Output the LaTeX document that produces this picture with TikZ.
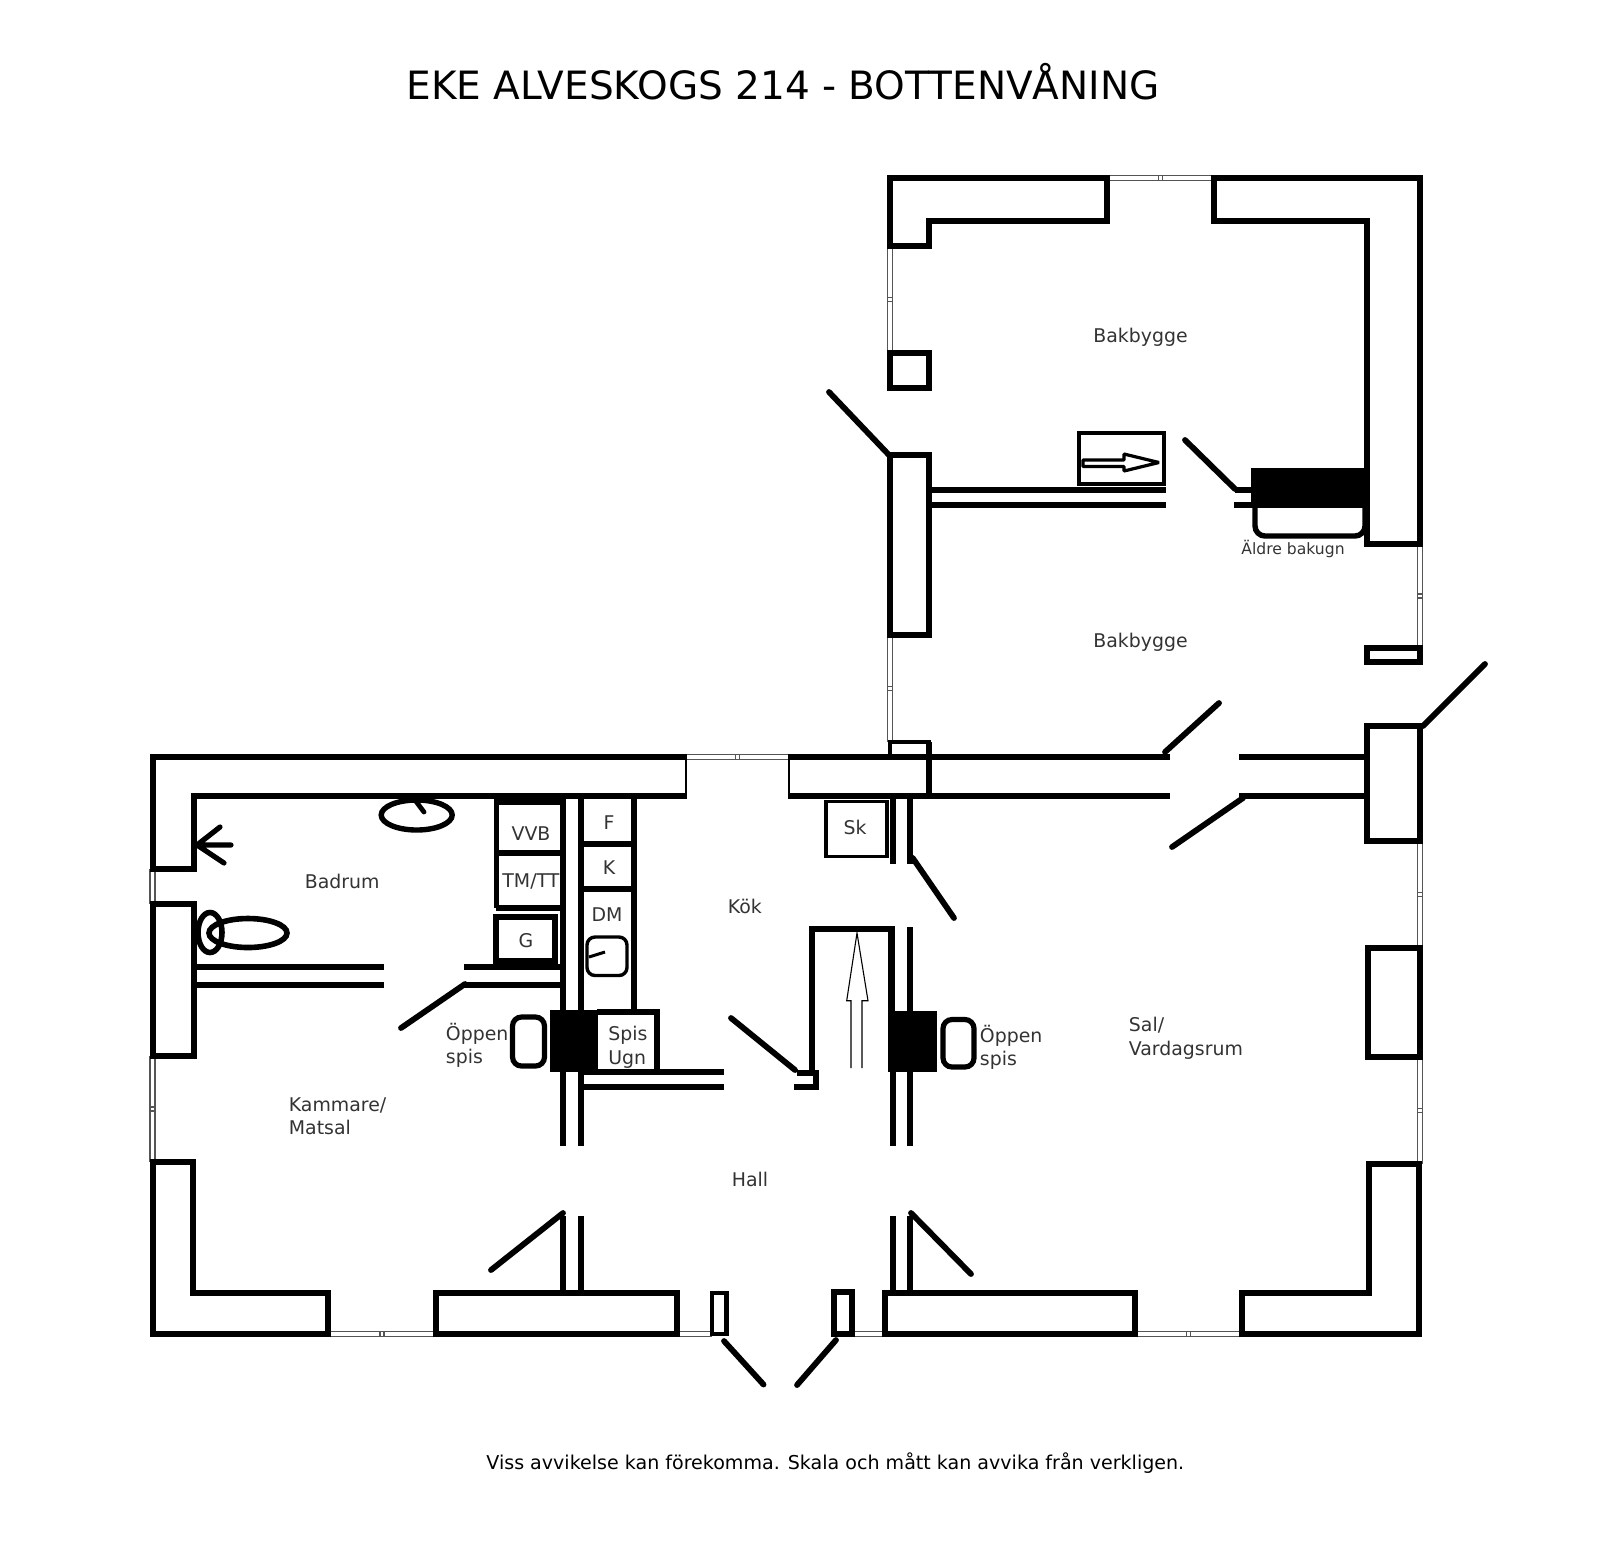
\documentclass[tikz,border=0pt]{standalone}
\usepackage{fontspec}
\setmainfont{DejaVu Sans}
\definecolor{txt}{HTML}{333333}
\definecolor{win}{HTML}{555555}
\newcommand{\hwin}[3]{%
  \draw[winline] (#1,#3-2.5) -- (#2,#3-2.5) (#1,#3+2.5) -- (#2,#3+2.5);
  \draw[winline] ({(#1+#2)/2-2},#3-2.5) -- ++(0,5) ({(#1+#2)/2+2},#3-2.5) -- ++(0,5);}
\newcommand{\vwin}[3]{%
  \draw[winline] (#3-2.5,#1) -- (#3-2.5,#2) (#3+2.5,#1) -- (#3+2.5,#2);
  \draw[winline] (#3-2.5,{(#1+#2)/2-2}) -- ++(5,0) (#3-2.5,{(#1+#2)/2+2}) -- ++(5,0);}
\tikzset{
  wall/.style={line width=3pt,miter limit=10,line join=miter},
  doorleaf/.style={line width=2.9pt,line cap=round},
  winline/.style={line width=0.55pt,color=win},
  solid block/.style={fill=black,draw=none},
  label/.style={anchor=base west,inner sep=0pt,text=txt,font=\fontsize{9.45}{12}\selectfont},
  labelc/.style={anchor=base,inner sep=0pt,text=txt,font=\fontsize{9.45}{12}\selectfont},
}
\begin{document}
\begin{tikzpicture}[x=0.5pt,y=-0.5pt]
\useasboundingbox (0,0) rectangle (1600,1560);

% ---------- title and footer
\node[anchor=base west,inner sep=0pt,font=\fontsize{19.5}{22}\selectfont] (title) at (406,99.5) {EKE ALVESKOGS 214 - BOTTENVÅNING};
\node[anchor=base west,inner sep=0pt,text=black,font=\fontsize{9.53}{12}\selectfont] (footer) at (486,1469) {Viss avvikelse kan förekomma. Skala och mått kan avvika från verkligen.};

% ---------- windows
\hwin{1109}{1212}{178}
\vwin{246}{353}{890}
\vwin{635}{742}{890}
\vwin{544}{648}{1420}
\vwin{841}{948}{1420}
\vwin{1057}{1164}{1420}
\hwin{686}{789}{757}
\vwin{1056}{1162}{152.5}
\draw[winline] (150,869) -- (150,904) (155,869) -- (155,904);
\hwin{328}{436}{1334}
\draw[winline] (677,1331.5) -- (712,1331.5) (677,1336.5) -- (712,1336.5);
\draw[winline] (851,1331.5) -- (885,1331.5) (851,1336.5) -- (885,1336.5);
\hwin{1135}{1242}{1334}

% ---------- back building walls
\draw[wall] (890,178) -- (1107,178) -- (1107,221) -- (929,221) -- (929,246) -- (890,246) -- cycle;
\draw[wall] (1214,178) -- (1420,178) -- (1420,544) -- (1367,544) -- (1367,221) -- (1214,221) -- cycle;
\draw[wall] (890,353) rectangle (929,388);
\draw[wall] (890,455) rectangle (929,635);
\draw[wall] (1367,648) rectangle (1420,662);
\draw[wall,line width=2.4pt] (890,742) rectangle (929,757);
\draw[wall] (929,742) -- (929,796);

% back building partition
\draw[wall] (929,490) -- (1166,490) (929,505) -- (1166,505);
\draw[wall] (1235,490) -- (1252,490) (1234,505) -- (1252,505);
\fill[solid block] (1251,468) rectangle (1368,508);
\draw[line width=2.7pt,rounded corners=5pt] (1255,506) -- (1255,536) -- (1365,536) -- (1365,506);
\draw[line width=1.6pt] (1079,433) rectangle (1164,484);
\draw[line width=1.6pt,line join=bevel] (1083,460) -- (1124,460) -- (1124,454) -- (1159,462.5) -- (1124,471) -- (1124,466.5) -- (1083,466.5) -- cycle;

% ---------- main building walls
\draw[wall] (686,757) -- (152.5,757) -- (152.5,869) -- (193.6,869) -- (193.6,796) -- (686,796);
\draw[line width=0.6pt] (686,754) -- (686,799);
\draw[wall] (789,757) -- (1170,757) (789,796) -- (1170,796);
\draw[line width=0.6pt] (789,754) -- (789,799);
\draw[wall] (1239,757) -- (1367,757) (1239,796) -- (1367,796);
\draw[wall] (1367,726) rectangle (1420,841);
\draw[wall] (1368,948) rectangle (1420,1057);
\draw[wall] (152.5,904) rectangle (193.6,1056);
\draw[wall] (152.5,1162) -- (193,1162) -- (193,1293) -- (328,1293) -- (328,1334) -- (152.5,1334) -- cycle;
\draw[wall] (436,1293) rectangle (677,1334);
\draw[wall,line width=2.4pt] (712,1293) rectangle (726.5,1334);
\draw[wall] (834,1292) rectangle (851.5,1334);
\draw[wall] (885.4,1293) rectangle (1135,1334);
\draw[wall] (1242,1293) -- (1369,1293) -- (1369,1164) -- (1419,1164) -- (1419,1334) -- (1242,1334) -- cycle;

% ---------- inner walls, left
\draw[wall] (562.7,796) -- (562.7,1146) (580.7,796) -- (580.7,1146);
\draw[wall] (562.7,1216) -- (562.7,1293) (580.7,1216) -- (580.7,1293);
\draw[wall] (193.6,967) -- (384,967) (193.6,985) -- (384,985);
\draw[wall] (464,967) -- (560.7,967) (464,985) -- (560.7,985);
\draw[wall] (580.7,1072) -- (724,1072) (580.7,1086.7) -- (724,1086.7);

% bathroom appliances
\draw[line width=2.7pt] (496.4,796) -- (496.4,908);
\draw[line width=2.7pt] (496.4,853) -- (561,853) (496.4,908) -- (561,908);
\fill[solid block] (494,796) rectangle (561,805);
\draw[wall] (496.4,917) rectangle (555,960.5);

% kitchen column
\draw[wall] (633.7,796) -- (633.7,1012);
\draw[line width=2.7pt] (580.7,844) -- (633.7,844) (580.7,889) -- (633.7,889);
\draw[wall] (597,1012) -- (657,1012) -- (657,1072);
\draw[line width=1.7pt,rounded corners=4pt] (587,937) rectangle (627,975.5);
\draw[line width=1.5pt] (589,957) -- (605,952);

% fireplaces
\fill[solid block] (550,1010) rectangle (597.7,1072);
\draw[line width=2.6pt,rounded corners=4.5pt] (512.5,1017) rectangle (544.5,1066);
\fill[solid block] (888,1011) rectangle (936.7,1072);
\draw[line width=2.6pt,rounded corners=4.5pt] (943,1019.5) rectangle (974,1067);

% ---------- inner walls, right
\draw[wall] (892.7,796) -- (892.7,864) (910,796) -- (910,864);
\draw[wall] (910,927) -- (910,1146);
\draw[wall] (892.7,1072) -- (892.7,1146);
\draw[wall] (892.7,1216) -- (892.7,1293) (910,1216) -- (910,1293);
\draw[wall] (812,1072) -- (812,929) -- (891.5,929);
\draw[line width=3.4pt] (891.5,926) -- (891.5,1012);
\draw[wall] (796.7,1072.7) -- (815.7,1072.7) -- (815.7,1086.7) -- (794,1086.7);
\draw[line width=1.7pt] (826,801.5) rectangle (887,856.5);
% up arrow
\draw[line width=0.55pt] (851,1068) -- (851,1000.7) -- (846.7,1000.7) -- (857,933) -- (868,1000.7) -- (862,1000.7) -- (862,1068);

% ---------- fixtures in the bathroom
\draw[line width=2.8pt] (210,932.5) ellipse [x radius=12,y radius=20];
\draw[line width=2.8pt] (248,933) ellipse [x radius=39,y radius=14.5];
\draw[line width=2.7pt] (416.7,815) ellipse [x radius=35.5,y radius=15];
\draw[line width=2.4pt,line cap=round] (415,800) -- (424,812);
\draw[line width=2.6pt,line cap=round] (197,845) -- (231,845) (197,845) -- (220,827) (197,845) -- (224,863);

% ---------- door leaves
\draw[doorleaf] (829,392) -- (889,455);
\draw[doorleaf] (1235,489) -- (1185,440);
\draw[doorleaf] (1165,752) -- (1219,703);
\draw[doorleaf] (1243,798) -- (1172,847);
\draw[doorleaf] (1423,726) -- (1485,664);
\draw[doorleaf] (465,984) -- (401,1028);
\draw[doorleaf] (912.7,858) -- (954,918);
\draw[doorleaf] (731,1018) -- (795,1070);
\draw[doorleaf] (563,1213) -- (491,1270);
\draw[doorleaf] (911,1213) -- (971,1274);
\draw[doorleaf] (724,1341) -- (763.5,1384.5);
\draw[doorleaf] (836,1340) -- (797,1385);

% ---------- labels
\node[label] (bak1) at (1093,342) {Bakbygge};
\node[label] (bak2) at (1093,647) {Bakbygge};
\node[label,font=\fontsize{7.8}{10}\selectfont] (oven) at (1241,554) {Äldre bakugn};
\node[label] (badrum) at (304.5,888) {Badrum};
\node[labelc] (vvb) at (531,840) {VVB};
\node[label] (tm) at (502,887.7) {TM/TT};
\node[labelc] (g) at (526,947) {G};
\node[labelc] (f) at (609,829) {F};
\node[labelc] (k) at (609,874) {K};
\node[labelc] (dm) at (607,921.7) {DM};
\node[label] (spis) at (608,1040) {Spis};
\node[label] (ugn) at (608,1064) {Ugn};
\node[label] (op1) at (445.5,1040) {Öppen};
\node[label] (sp1) at (445.5,1063.5) {spis};
\node[label] (op2) at (979.5,1042) {Öppen};
\node[label] (sp2) at (979.5,1065.5) {spis};
\node[label] (kam) at (288.5,1111) {Kammare/};
\node[label] (mat) at (288.5,1134.5) {Matsal};
\node[label] (kok) at (727.5,913) {Kök};
\node[label] (hall) at (731.5,1186.5) {Hall};
\node[labelc] (sk) at (855,834) {Sk};
\node[label] (sal) at (1128.5,1031.7) {Sal/};
\node[label] (var) at (1128.5,1055) {Vardagsrum};
\end{tikzpicture}
\end{document}
